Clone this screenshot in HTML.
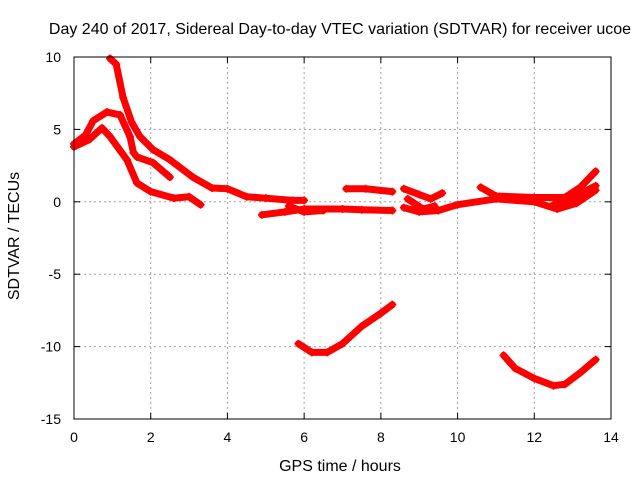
<!DOCTYPE html>
<html><head><meta charset="utf-8"><style>
body{margin:0;background:#fff;}
svg text{font-family:"Liberation Sans",sans-serif;font-size:14px;fill:#000;}
svg text.big{font-size:16px;}
</style></head><body>
<svg id="c" width="640" height="480"></svg>
<script>
const xTicks=[0,2,4,6,8,10,12,14];
const yTicks=[10,5,0,-5,-10,-15];
const sTop=[[0.94,9.9],[1.1,9.5],[1.28,7.2],[1.5,5.5],[1.72,4.5],[2.06,3.6],[2.5,2.9],[3.1,1.7],[3.6,0.95],[4.0,0.9],[4.5,0.35],[5.0,0.25],[5.7,0.1],[6.0,0.1]];
const sMid=[[0,4],[0.3,4.6],[0.5,5.6],[0.86,6.2],[1.2,6.0],[1.46,4.5],[1.55,3.4],[1.64,3.1],[2.06,2.7],[2.5,1.7]];
const sLow=[[0,3.8],[0.4,4.3],[0.73,5.1],[0.94,4.5],[1.38,2.9],[1.64,1.3],[2.0,0.7],[2.6,0.25],[3.0,0.35],[3.3,-0.2]];
const sFlat1=[[4.9,-0.9],[5.5,-0.7],[6.0,-0.5],[7.0,-0.5],[7.5,-0.55],[8.3,-0.6]];
const sFlat2=[[5.6,-0.3],[6.0,-0.7],[6.5,-0.6]];
const sBump=[[7.1,0.9],[7.6,0.9],[8.3,0.7]];
const sMain=[[8.6,-0.4],[9.0,-0.7],[9.5,-0.6],[10.0,-0.2],[11.0,0.2],[12.0,0.0],[12.6,-0.5],[13.1,-0.1],[13.6,0.8]];
const sUpper=[[8.6,0.9],[9.0,0.5],[9.3,0.2],[9.6,0.6]];
const sArc=[[8.7,0.2],[9.1,-0.5],[9.4,-0.3]];
const sHigh=[[10.6,1.0],[11.0,0.4],[12.0,0.3],[12.8,0.3],[13.2,1.0],[13.6,2.1]];
const sHigh2=[[12.5,-0.2],[13.0,0.3],[13.6,1.1]];
const sNeg1=[[5.85,-9.8],[6.2,-10.4],[6.6,-10.4],[7.0,-9.8],[7.5,-8.6],[8.0,-7.7],[8.3,-7.1]];
const sNeg2=[[11.2,-10.6],[11.5,-11.5],[12.0,-12.2],[12.5,-12.7],[12.8,-12.6],[13.2,-11.8],[13.6,-10.9]];
const series=[sTop,sMid,sLow,sFlat1,sFlat2,sBump,sMain,sUpper,sArc,sHigh,sHigh2,sNeg1,sNeg2];
const X0=74,X1=611,Y0=57,Y1=419;
const X=t=>X0+(t-0)/14*(X1-X0);
const Y=v=>Y0+(10-v)/25*(Y1-Y0);
const svg=document.getElementById('c');
const NS='http://www.w3.org/2000/svg';
function mk(tag,attrs,parent){const e=document.createElementNS(NS,tag);for(const k in attrs)e.setAttribute(k,attrs[k]);(parent||svg).appendChild(e);return e;}
xTicks.forEach(t=>{
  if(t>0&&t<14){const g=mk('line',{x1:X(t),x2:X(t),y1:Y0,y2:Y1,stroke:'#a0a0a0','stroke-dasharray':'2,3'});
  
  }
  const tk=mk('text',{x:X(t),y:Y1+23,'text-anchor':'middle'});tk.textContent=t;
  
  
  mk('line',{x1:X(t),x2:X(t),y1:Y1,y2:Y1-6,stroke:'#000'});
  mk('line',{x1:X(t),x2:X(t),y1:Y0,y2:Y0+6,stroke:'#000'});
});
yTicks.forEach(v=>{
  if(v<10&&v>-15){const g=mk('line',{x1:X0,x2:X1,y1:Y(v),y2:Y(v),stroke:'#a0a0a0','stroke-dasharray':'2,3'});
  
  }
  const tk=mk('text',{x:X0-13,y:Y(v)+5,'text-anchor':'end'});tk.textContent=v;
  
  
  mk('line',{x1:X0,x2:X0+6,y1:Y(v),y2:Y(v),stroke:'#000'});
  mk('line',{x1:X1,x2:X1-6,y1:Y(v),y2:Y(v),stroke:'#000'});
});
series.forEach(s=>{
  const p=mk('polyline',{points:s.map(d=>X(d[0])+','+Y(d[1])).join(' '),fill:'none',stroke:'#f00','stroke-width':7,'stroke-linejoin':'round','stroke-linecap':'round'});
  
  
  s.forEach(d=>{
    const m=mk('path',{d:`M${X(d[0])-4},${Y(d[1])}h8M${X(d[0])},${Y(d[1])-4}v8`,stroke:'#f00','stroke-width':1.5});
    
    
  });
});
const fr=mk('rect',{x:X0,y:Y0,width:X1-X0,height:Y1-Y0,fill:'none',stroke:'#000'});


const ti=mk('text',{x:340,y:34,'text-anchor':'middle','class':'big'});ti.textContent='Day 240 of 2017, Sidereal Day-to-day VTEC variation (SDTVAR) for receiver ucoe';


const xl=mk('text',{x:340,y:471,'text-anchor':'middle','class':'big'});xl.textContent='GPS time / hours';


const yl=mk('text',{x:0,y:0,'text-anchor':'middle','class':'big',transform:'translate(19,236) rotate(-90)'});yl.textContent='SDTVAR / TECUs';


</script>
</body></html>
